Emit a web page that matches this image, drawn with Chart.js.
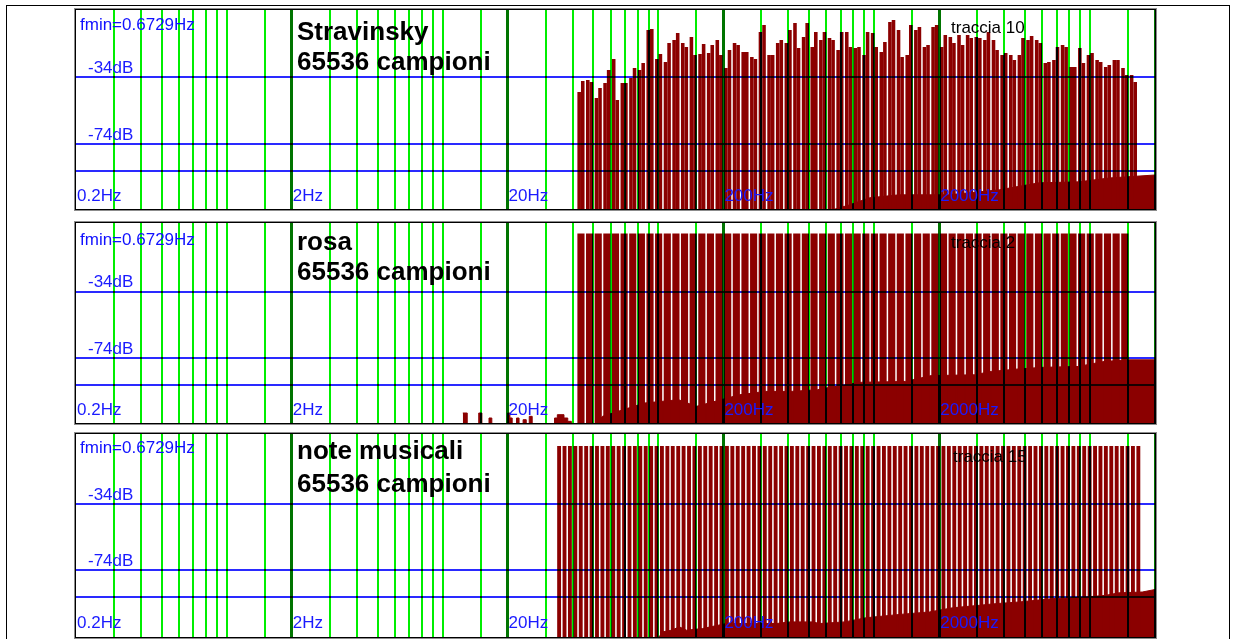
<!DOCTYPE html>
<html>
  <head>
    <meta charset="UTF-8" />
    <script src="https://cdn.jsdelivr.net/npm/chart.js"></script>
    <style>
      body {
        margin: 0;
        background: #fff;
        width: 1233px;
        height: 639px;
        position: relative;
        overflow: hidden;
        font-family: "Liberation Sans", Arial, sans-serif;
      }
      #frame {
        position: absolute;
        left: 6px;
        top: 5px;
        width: 1224px;
        height: 700px;
        border: 1px solid #000;
        box-sizing: border-box;
      }
      .panel {
        position: absolute;
        left: 74px;
        width: 1083px;
        border: 1px solid #8c8c8c;
        box-sizing: border-box;
      }
      .inner {
        position: relative;
        border: 1px solid #000;
      }
      .inner canvas {
        display: block;
      }
      .fmin {
        position: absolute;
        left: 4px;
        font-size: 17px;
        line-height: 17px;
        color: #1010ff;
        white-space: nowrap;
      }
      .title {
        position: absolute;
        left: 221px;
        font-size: 26px;
        line-height: 30px;
        font-weight: bold;
        color: #000;
        white-space: nowrap;
      }
      .track {
        position: absolute;
        left: 875px;
        font-size: 17px;
        line-height: 17px;
        color: #000;
        white-space: nowrap;
      }
    </style>
  </head>
  <body>
    <div id="frame"></div>

    <div class="panel" style="top: 8px">
      <div class="inner">
        <canvas id="c1" width="1079" height="199"></canvas>
        <div class="fmin" style="top: 6px">fmin=0.6729Hz</div>
        <div class="title" style="top: 6px">Stravinsky</div>
        <div class="title" style="top: 36px">65536 campioni</div>
        <div class="track" style="top: 9px">traccia 10</div>
      </div>
    </div>

    <div class="panel" style="top: 221px">
      <div class="inner">
        <canvas id="c2" width="1079" height="200"></canvas>
        <div class="fmin" style="top: 8px">fmin=0.6729Hz</div>
        <div class="title" style="top: 3px">rosa</div>
        <div class="title" style="top: 33px">65536 campioni</div>
        <div class="track" style="top: 11px">traccia 2</div>
      </div>
    </div>

    <div class="panel" style="top: 432px">
      <div class="inner">
        <canvas id="c3" width="1079" height="203"></canvas>
        <div class="fmin" style="top: 5px">fmin=0.6729Hz</div>
        <div class="title" style="top: 1px">note musicali</div>
        <div class="title" style="top: 34px">65536 campioni</div>
        <div class="track" style="top: 14px; left: 877px">traccia 15</div>
      </div>
    </div>

    <script>
      // frequency grid (Hz) - green lines, darker ones at 2*10^n
      const xTicks = [
        0.2, 0.3, 0.4, 0.5, 0.6, 0.7, 0.8, 0.9, 1, 1.5,
        2, 3, 4, 5, 6, 7, 8, 9, 10, 15,
        20, 30, 40, 50, 60, 70, 80, 90, 100, 150,
        200, 300, 400, 500, 600, 700, 800, 900, 1000, 1500,
        2000, 3000, 4000, 5000, 6000, 7000, 8000, 9000, 10000, 15000,
        20000,
      ];
      const decadeTicks = [0.2, 2, 20, 200, 2000, 20000];
      const labelTicks = [0.2, 2, 20, 200, 2000];
      const dbTicks = [-90, -74, -34];
      const dbTickLabels = ["", "-74dB", "-34dB"];

      // band centres (Hz) for traccia 10 / traccia 2
      const bandHz = [
        43.75, 47.97, 52.6, 57.68, 63.24, 69.34, 76.03, 83.37, 91.41,
        100.2, 109.9, 120.5, 132.1, 144.9, 158.9, 174.2, 191.0, 209.4, 229.6,
        251.8, 276.1, 302.7, 331.9, 363.9, 399.0, 437.5, 479.7, 526.0, 576.8,
        632.4, 693.4, 760.3, 833.7, 914.1,
        1002, 1099, 1205, 1321, 1449, 1589, 1742, 1910, 2094, 2296, 2518,
        2761, 3027, 3319, 3639, 3990, 4375, 4797, 5260, 5768, 6324, 6934,
        7603, 8337, 9141,
        10023, 10990, 12050, 13213, 14488, 15886,
      ];

      // Stravinsky, each band drawn as a lower and upper half of the band (dB)
      const stravLowDb = [
        -42.8, -35.6, -46.4, -37.4, -23.0, -37.4, -34.4, -29.6, -5.6, -23.0,
        -24.8, -11.6, -13.4, -9.8, -20.0, -19.4, -11.6, -28.4, -13.4, -18.8,
        -21.8, -6.8, -20.6, -13.4, -13.4, -1.4, -9.8, -15.8, -11.6, -10.4,
        -17.6, -6.8, -16.4, -20.6, -7.4, -18.8, -0.8, -5.6, -20.6, -5.6,
        -15.8, -3.8, -15.8, -9.8, -8.6, -8.6, -9.8, -11.6, -11.6, -20.6,
        -20.6, -20.6, -11.6, -11.6, -25.4, -23.6, -14.6, -27.8, -16.4, -20.6,
        -23.6, -27.8, -23.6, -28.4, -32.6,
      ];
      const stravHighDb = [
        -36.2, -36.8, -40.4, -29.6, -47.6, -37.4, -28.4, -25.4, -5.0, -20.0,
        -13.4, -7.4, -15.8, -20.6, -14.0, -14.6, -20.6, -17.6, -14.6, -18.8,
        -23.0, -2.6, -20.6, -11.6, -5.6, -16.4, -1.4, -6.8, -6.8, -11.6,
        -6.8, -15.8, -15.8, -6.8, -15.8, -12.8, 0.4, -21.8, -2.6, -3.8,
        -14.6, -2.6, -8.6, -13.4, -14.6, -10.4, -10.4, -6.8, -17.6, -19.4,
        -23.6, -10.4, -9.2, -13.4, -24.8, -15.8, -15.8, -27.8, -25.4, -19.4,
        -24.8, -26.6, -23.6, -32.6, -36.8,
      ];
      const stravFloorHz = [600, 620, 770, 950, 1300, 2200, 3800, 5800, 8900, 12250, 20000];
      const stravFloorDb = [-118, -114, -110.5, -106.3, -104.5, -104.5, -101.5, -97.3, -96.7, -94.4, -92.6];

      // rosa (pink noise), band levels (dB)
      const rosaDb = [
        1, 1, 1, 1, 1, 1, 1, 1, 1, 1, 1, 1, 1, 1, 1, 1,
        1, 1, 1, 1, 1, 1, 1, 1, 1, 1, 1, 1, 1, 1, 1, 1,
        1, 1, 1, 1, 1, 1, 1, 1, 1, 1, 1, 1, 1, 1, 1, 1,
        1, 1, 1, 1, 1, 1, 1, 1, 1, 1, 1, 1, 1, 1, 1, 1,
        null,
      ];
      const rosaFloorHz = [40, 50, 55, 65, 86, 124, 150, 238, 313, 410, 547, 596, 873, 1396, 1837, 2911, 3484, 4646, 6066, 8812, 11616, 15172, 20000];
      const rosaFloorDb = [-118, -116, -109, -106, -101, -99, -103, -96, -94, -94, -93, -92, -88.5, -88, -84.5, -84, -82, -80.5, -79.5, -79, -76, -75, -75];
      const rosaNoiseHz = [12.4, 13.0, 14.7, 15.2, 16.4, 16.9, 20.0, 20.5, 21.0, 22.0, 22.6, 23.6, 24.4, 25.2, 26.0, 33.0, 34.0, 36.5, 38.0, 39.5];
      const rosaNoiseDb = [-107, -125, -107, -125, -110, -125, -107, -110, -125, -110, -125, -111, -125, -109, -125, -110, -108, -110, -112, -125];

      // note musicali, one bar per semitone C#1 .. C10 (Hz)
      const noteHz = [
        34.65, 36.71, 38.89, 41.2, 43.65, 46.25, 49.0, 51.91, 55.0, 58.27, 61.74,
        65.41, 69.3, 73.42, 77.78, 82.41, 87.31, 92.5, 98.0, 103.8, 110.0, 116.5, 123.5,
        130.8, 138.6, 146.8, 155.6, 164.8, 174.6, 185.0, 196.0, 207.7, 220.0, 233.1, 246.9,
        261.6, 277.2, 293.7, 311.1, 329.6, 349.2, 370.0, 392.0, 415.3, 440.0, 466.2, 493.9,
        523.3, 554.4, 587.3, 622.3, 659.3, 698.5, 740.0, 784.0, 830.6, 880.0, 932.3, 987.8,
        1047, 1109, 1175, 1245, 1319, 1397, 1480, 1568, 1661, 1760, 1865, 1976,
        2093, 2217, 2349, 2489, 2637, 2794, 2960, 3136, 3322, 3520, 3729, 3951,
        4186, 4435, 4699, 4978, 5274, 5588, 5920, 6272, 6645, 7040, 7459, 7902,
        8372, 8870, 9397, 9956, 10548, 11175, 11840, 12544, 13290, 14080, 14917, 15804,
        16744,
      ];
      const noteDb = [
        1, 1, 1, 1, 1, 1, 1, 1, 1, 1, 1,
        1, 1, 1, 1, 1, 1, 1, 1, 1, 1, 1, 1,
        1, 1, 1, 1, 1, 1, 1, 1, 1, 1, 1, 1,
        1, 1, 1, 1, 1, 1, 1, 1, 1, 1, 1, 1,
        1, 1, 1, 1, 1, 1, 1, 1, 1, 1, 1, 1,
        1, 1, 1, 1, 1, 1, 1, 1, 1, 1, 1, 1,
        1, 1, 1, 1, 1, 1, 1, 1, 1, 1, 1, 1,
        1, 1, 1, 1, 1, 1, 1, 1, 1, 1, 1, 1,
        1, 1, 1, 1, 1, 1, 1, 1, 1, 1, 1, 1,
        1,
      ];
      const noteFloorHz = [95, 105, 115, 125, 135, 160, 206, 352, 406, 519, 558, 728, 918, 1315, 1803, 2308, 3070, 3666, 4700, 5612, 6700, 9554, 11832, 13616, 17460, 20000];
      const noteFloorDb = [-118, -111, -110, -108, -110, -109, -106, -106, -105, -105, -106, -105, -102.5, -100.5, -99, -96.5, -95, -94, -93, -92, -91, -90, -89, -87.5, -87, -85.5];

      const DARK_RED = "#8b0000";
      const BLUE = "#1a1aff";
      const FONT = { family: "'Liberation Sans', Arial, sans-serif", size: 17 };

      const points = (xs, ys) => xs.map((x, i) => ({ x: x, y: ys[i] }));

      // grid goes over the bars and multiplies: green/blue on red -> black
      const multiplyGrid = {
        id: "multiplyGrid",
        beforeDraw(chart) {
          Object.values(chart.scales).forEach((s) => {
            if (s._plainLabels) return;
            const orig = s.drawLabels;
            s.drawLabels = function (area) {
              const op = this.ctx.globalCompositeOperation;
              this.ctx.globalCompositeOperation = "source-over";
              orig.call(this, area);
              this.ctx.globalCompositeOperation = op;
            };
            s._plainLabels = true;
          });
        },
        afterDatasetsDraw(chart) {
          chart.ctx.globalCompositeOperation = "multiply";
        },
        afterDraw(chart) {
          chart.ctx.globalCompositeOperation = "source-over";
        },
      };

      function drawPanel(id, p) {
        const datasets = p.barDb.map((dbs) => ({
          type: "bar",
          data: points(p.barHz, dbs),
          backgroundColor: DARK_RED,
          base: p.yMin,
          barPercentage: p.barPct,
          categoryPercentage: p.catPct,
        }));
        datasets.push({
          type: "line",
          data: points(p.floorHz, p.floorDb),
          fill: "start",
          backgroundColor: DARK_RED,
          borderColor: DARK_RED,
          borderWidth: 1,
          pointRadius: 0,
          tension: 0,
        });
        if (p.noiseHz) {
          datasets.push({
            type: "line",
            data: points(p.noiseHz, p.noiseDb),
            fill: "start",
            stepped: true,
            backgroundColor: DARK_RED,
            borderColor: DARK_RED,
            borderWidth: 1,
            pointRadius: 0,
          });
        }

        return new Chart(document.getElementById(id), {
          type: "bar",
          data: { datasets: datasets },
          plugins: [multiplyGrid],
          options: {
            animation: false,
            responsive: false,
            events: [],
            layout: { padding: 0 },
            plugins: { legend: { display: false }, tooltip: { enabled: false } },
            scales: {
              x: {
                type: "logarithmic",
                min: 0.2,
                max: 20000,
                offset: false,
                afterBuildTicks: (s) => {
                  s.ticks = xTicks.map((v) => ({ value: v }));
                },
                afterFit: (s) => {
                  s.height = 0;
                  s.paddingLeft = 0;
                  s.paddingRight = 0;
                },
                border: { display: false },
                grid: {
                  z: 1,
                  offset: false,
                  drawTicks: false,
                  color: (c) =>
                    c.tick.value === 0.2
                      ? "rgba(0,0,0,0)"
                      : decadeTicks.includes(c.tick.value)
                      ? "#007400"
                      : "#00ee00",
                  lineWidth: (c) => (decadeTicks.includes(c.tick.value) ? 3 : 2),
                },
                ticks: {
                  z: 2,
                  mirror: true,
                  padding: p.xPad,
                  align: "start",
                  labelOffset: 1,
                  autoSkip: false,
                  maxRotation: 0,
                  minRotation: 0,
                  color: BLUE,
                  font: FONT,
                  callback: (v) => (labelTicks.includes(v) ? v + "Hz" : ""),
                },
              },
              y: {
                min: p.yMin,
                max: p.yMax,
                afterBuildTicks: (s) => {
                  s.ticks = dbTicks.map((v) => ({ value: v }));
                },
                afterFit: (s) => {
                  s.width = 0;
                  s.paddingTop = 0;
                  s.paddingBottom = 0;
                },
                border: { display: false },
                grid: { z: 1, drawTicks: false, color: "#2a2aff", lineWidth: 2 },
                ticks: {
                  z: 2,
                  mirror: true,
                  padding: 12,
                  labelOffset: -9,
                  color: BLUE,
                  font: FONT,
                  callback: (v) => dbTickLabels[dbTicks.indexOf(v)],
                },
              },
            },
          },
        });
      }

      drawPanel("c1", {
        barHz: bandHz, barDb: [stravLowDb, stravHighDb], barPct: 1, catPct: 0.83,
        floorHz: stravFloorHz, floorDb: stravFloorDb,
        yMin: -113, yMax: 6.4, xPad: 2,
      });
      drawPanel("c2", {
        barHz: bandHz, barDb: [rosaDb], barPct: 0.83, catPct: 1,
        floorHz: rosaFloorHz, floorDb: rosaFloorDb,
        noiseHz: rosaNoiseHz, noiseDb: rosaNoiseDb,
        yMin: -113, yMax: 7.3, xPad: 2,
      });
      drawPanel("c3", {
        barHz: noteHz, barDb: [noteDb], barPct: 0.72, catPct: 1,
        floorHz: noteFloorHz, floorDb: noteFloorDb,
        yMin: -114.1, yMax: 8.2, xPad: 3,
      });
    </script>
  </body>
</html>
